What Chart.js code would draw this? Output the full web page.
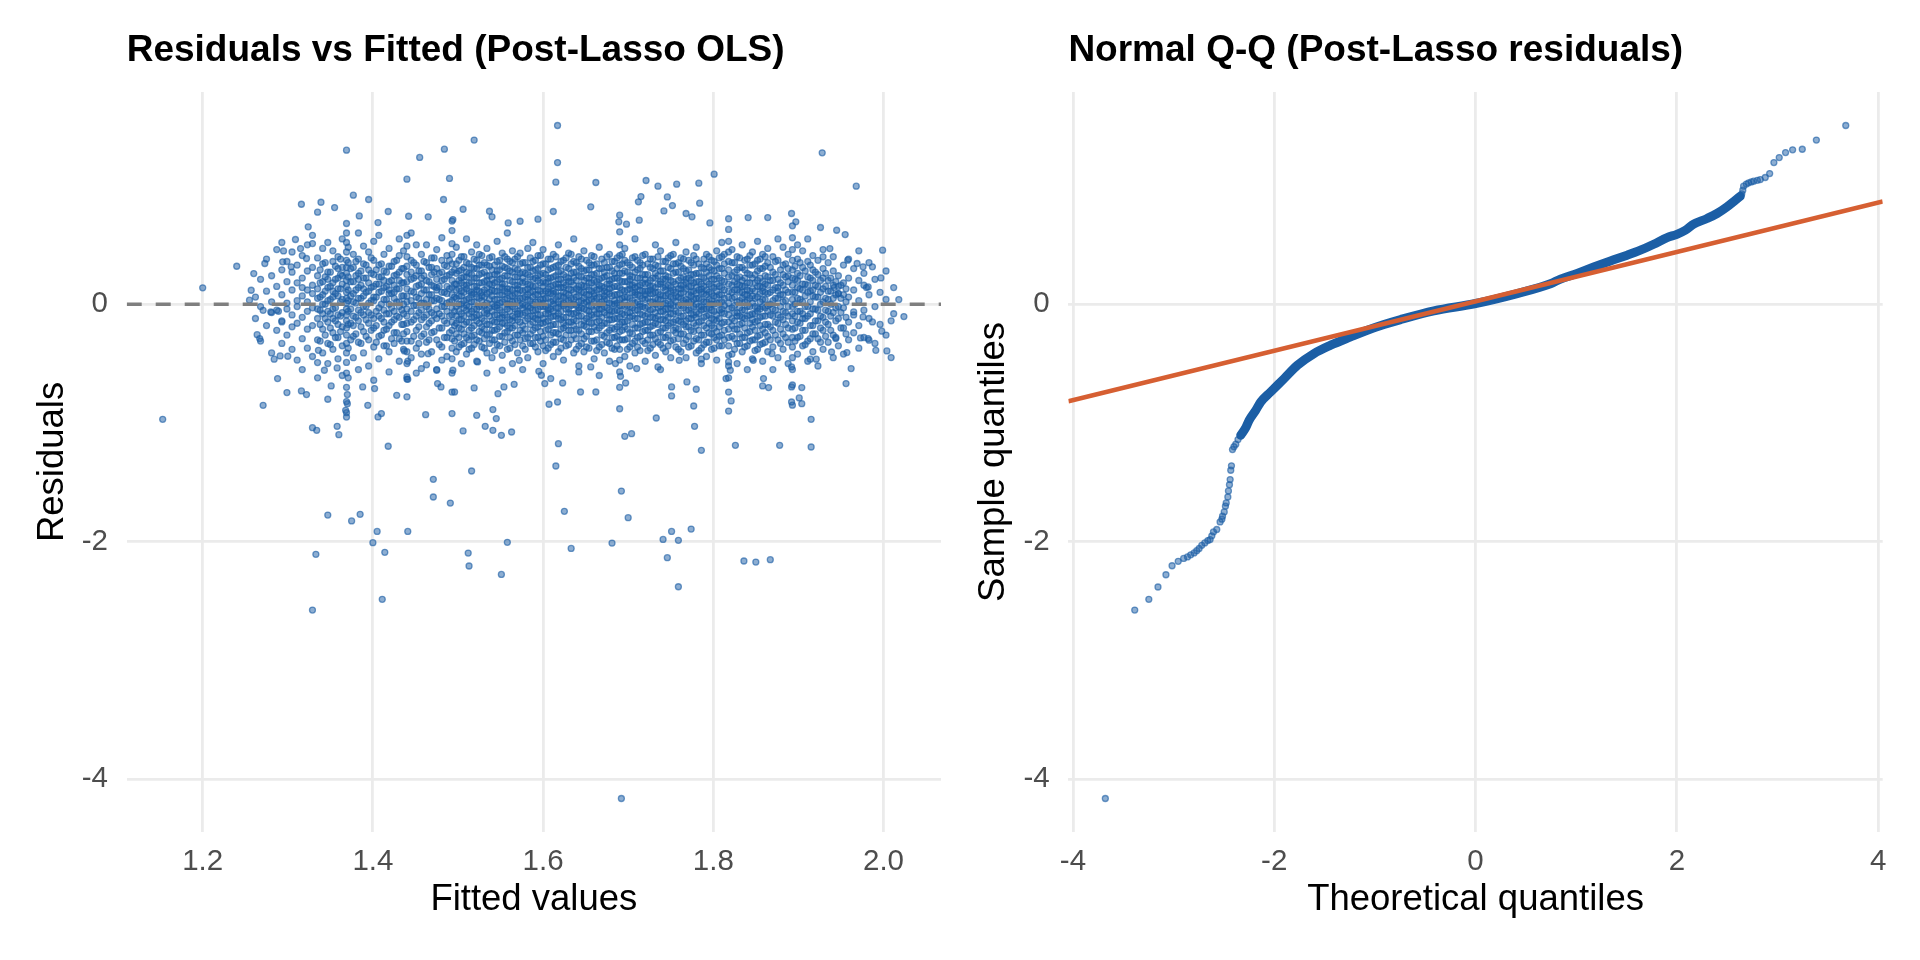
<!DOCTYPE html>
<html lang="en">
<head>
    <meta charset="UTF-8">
    <title>Post-Lasso OLS diagnostics</title>
    <style>
        body {
            margin: 0;
            padding: 0;
            background: #ffffff;
            width: 1920px;
            height: 960px;
            overflow: hidden;
        }
        .panel {
            position: absolute;
            top: 0;
            width: 960px;
            height: 960px;
        }
        #leftPanel { left: 0; }
        #rightPanel { left: 960px; }
    </style>
    <script src="https://cdn.jsdelivr.net/npm/chart.js"></script>
</head>
<body>
    <div class="panel" id="leftPanel"><canvas id="residChart" width="960" height="960"></canvas></div>
    <div class="panel" id="rightPanel"><canvas id="qqChart" width="960" height="960"></canvas></div>

    <script>
        // ---- axis ticks ----
        const residXTicks = [1.2, 1.4, 1.6, 1.8, 2.0];
        const residYTicks = [-4, -2, 0];
        const qqXTicks = [-4, -2, 0, 2, 4];
        const qqYTicks = [-4, -2, 0];

        // ---- residuals vs fitted: scattered points [fitted, residual] ----
        const residOutliers = [
            [1.617,1.505],[1.519,1.382],[1.369,1.297],[1.928,1.275],[1.484,1.306],[1.455,1.236],[1.617,1.193],[1.801,1.095],
            [1.44,1.053],[1.49,1.059],[1.615,1.028],[1.662,1.025],[1.721,1.042],[1.735,0.994],[1.757,1.011],[1.783,1.019],
            [1.968,0.994],[1.377,0.918],[1.395,0.882],[1.316,0.842],[1.339,0.859],[1.355,0.814],[1.335,0.775],[1.384,0.744],
            [1.418,0.781],[1.483,0.882],[1.506,0.8],[1.537,0.783],[1.612,0.781],[1.656,0.82],[1.712,0.862],[1.715,0.907],
            [1.746,0.904],[1.752,0.831],[1.742,0.786],[1.784,0.851],[1.768,0.764],[1.775,0.736],[1.892,0.764],[1.897,0.694],
            [1.864,0.73],[1.841,0.73],[1.796,0.685],[1.69,0.75],[1.698,0.674],[1.713,0.708],[1.689,0.694],[1.594,0.716],
            [1.573,0.699],[1.559,0.685],[1.54,0.736],[1.494,0.713],[1.465,0.736],[1.442,0.741],[1.406,0.688],[1.324,0.652],
            [1.24,0.32],[1.273,0.343],[1.26,0.258],[1.2,0.138],[1.926,0.646],[1.945,0.623],[1.955,0.587],[1.999,0.455],
            [1.997,0.222],[1.987,0.315],[2.018,0.039],[2.024,-0.104],[2.009,-0.14],[2.004,-0.393],[2.009,-0.449],[1.998,-0.227],
            [1.962,-0.542],[1.957,-0.407],[1.956,-0.668],[1.98,0.14],[1.976,0.315],[1.937,0.469],[1.929,0.399],[1.958,0.371],
            [1.942,0.14],[1.973,-0.284],[1.982,-0.289],[1.987,-0.149],[1.944,-0.289],[1.939,-0.402],[1.914,-0.463],[1.921,-0.463],
            [1.295,0.449],[1.309,0.545],[1.315,0.469],[1.294,0.357],[1.304,0.315],[1.322,0.385],[1.329,0.511],
            [1.969,0.343],[1.982,0.146],[1.947,0.09],[1.965,-0.065],[1.976,-0.107],[1.991,-0.388],[1.983,-0.303],
            [1.915,-0.969],[1.915,-1.202],[1.878,-1.188],[1.901,-0.789],[1.904,-0.837],[1.892,-0.823],[1.892,-0.696],[1.904,-0.702],
            [1.892,-0.528],[1.858,-0.688],[1.865,-0.702],[1.859,-0.626],[1.826,-1.188],[1.821,-0.814],[1.82,-0.556],[1.815,-0.626],
            [1.786,-1.23],[1.778,-1.028],[1.777,-0.857],[1.78,-0.716],[1.751,-0.696],[1.751,-0.772],[1.769,-0.654],[1.733,-0.958],
            [1.704,-1.09],[1.696,-1.112],[1.697,-0.663],[1.691,-0.607],[1.662,-0.739],[1.644,-0.739],[1.623,-0.663],[1.617,-0.823],
            [1.607,-0.842],[1.618,-1.174],[1.615,-1.362],[1.602,-0.668],[1.566,-0.674],[1.547,-0.753],[1.554,-0.696],[1.545,-0.963],
            [1.563,-1.076],[1.551,-1.104],[1.541,-1.062],[1.532,-1.028],[1.522,-0.935],[1.541,-0.887],[1.519,-0.705],[1.506,-1.067],
            [1.516,-1.404],[1.493,-0.921],[1.496,-0.739],[1.48,-0.696],[1.476,-0.668],[1.462,-0.93],[1.471,-1.474],[1.418,-1.196],
            [1.41,-0.921],[1.406,-0.949],[1.402,-0.71],[1.388,-0.696],[1.394,-0.851],[1.428,-0.767],[1.441,-0.632],[1.44,-0.612],
            [1.37,-0.761],[1.37,-0.837],[1.369,-0.913],[1.368,-0.893],[1.358,-1.028],[1.36,-1.098],[1.351,-0.688],[1.347,-0.8],
            [1.329,-1.039],[1.334,-1.062],[1.322,-0.761],[1.316,-0.73],[1.299,-0.744],[1.271,-0.851],[1.288,-0.626],[1.291,-0.435],
            [1.284,-0.463],[1.3,-0.438],[1.264,-0.256],[1.267,-0.289],[1.271,-0.051],[1.28,-0.065],[1.289,-0.059],[1.293,-0.149],
            [1.257,0.118],[1.255,0.034],[1.153,-0.969],[1.358,-0.536],[1.336,-0.388],[1.335,-0.491],[1.343,-0.556],[1.437,-0.393],
            [1.441,-0.48],[1.457,-0.542],[1.465,-0.416],[1.475,-0.556],[1.494,-0.556],[1.523,-0.486],[1.552,-0.556],[1.572,-0.472],
            [1.595,-0.565],[1.609,-0.626],[1.598,-0.598],[1.642,-0.57],[1.656,-0.528],[1.685,-0.5],[1.71,-0.542],[1.735,-0.528],
            [1.76,-0.472],[1.786,-0.463],[1.818,-0.486],[1.847,-0.472],[1.869,-0.416],
            [1.471,-1.623],[1.491,-1.674],[1.692,-1.573],[1.347,-1.775],[1.375,-1.825],[1.385,-1.769],[1.625,-1.744],[1.7,-1.797],
            [1.405,-1.913],[1.441,-1.913],[1.774,-1.893],[1.751,-1.913],[1.741,-1.98],[1.759,-1.988],[1.4,-2.008],[1.558,-2.005],
            [1.681,-2.011],[1.333,-2.106],[1.414,-2.089],[1.512,-2.095],[1.633,-2.056],[1.746,-2.134],[1.513,-2.204],[1.836,-2.162],
            [1.85,-2.171],[1.867,-2.151],[1.551,-2.275],[1.759,-2.379],[1.411,-2.485],[1.329,-2.575],[1.692,-4.162]
        ];

        // ---- residuals vs fitted: spread of the cloud, estimated per fitted value [fitted, [residuals...]] ----
        const residCore = [
            [1.262,[0.06,-0.12]],[1.268,[0.21,-0.02,-0.31]],[1.275,[0.11,-0.18,0.38]],[1.281,[-0.07,0.24,-0.41,0.02]],
            [1.287,[0.15,-0.22,0.46,-0.05]],[1.293,[0.08,-0.33,0.29,-0.14,0.52]],[1.299,[-0.04,0.19,-0.26,0.36,0.01]],
            [1.305,[0.12,-0.38,0.27,-0.09,0.44,-0.19]],[1.311,[0.03,-0.16,0.33,-0.47,0.18,-0.02]],
            [1.317,[0.22,-0.11,0.41,-0.29,0.07,-0.55,0.14]],[1.323,[-0.06,0.28,-0.21,0.12,-0.37,0.5,0.02]],
            [1.329,[0.16,-0.03,-0.44,0.31,-0.18,0.09,0.58]],[1.335,[-0.12,0.24,0.05,-0.3,0.39,-0.62,0.13,-0.04]],
            [1.341,[0.08,-0.21,0.34,-0.08,0.19,-0.41,0.47,0.0]],[1.347,[-0.15,0.27,0.03,-0.33,0.14,0.52,-0.06,-0.5,0.21]],
            [1.353,[0.11,-0.04,0.36,-0.24,0.18,-0.12,0.45,-0.38,0.06]],[1.359,[-0.09,0.22,-0.28,0.07,0.4,-0.17,0.13,-0.46,0.3]],
            [1.364,[0.04,-0.19,0.31,-0.35,0.17,0.55,-0.07,0.24,-0.6]],
            [1.369,[-0.95,-0.82,-0.7,-0.58,-0.49,-0.41,-0.33,-0.26,-0.2,-0.14,-0.09,-0.04,0.01,0.05,0.1,0.15,0.2,0.26,0.31,0.37,0.44,0.52,0.6,0.68]],
            [1.371,[-0.62,-0.37,-0.17,-0.06,0.03,0.12,0.23,0.35,0.48]],[1.377,[0.09,-0.27,0.19,-0.1,0.42,-0.45,0.02,0.31,-0.18]],
            [1.383,[-0.05,0.26,-0.32,0.14,-0.14,0.38,0.05,-0.55,0.21,0.6]],[1.389,[0.13,-0.09,0.34,-0.23,0.07,-0.41,0.22,0.49,-0.02]],
            [1.395,[-0.16,0.18,0.01,-0.3,0.29,-0.07,0.44,-0.52,0.11]],[1.401,[0.06,-0.2,0.37,-0.12,0.15,-0.36,0.25,0.03,-0.64,0.53]],
            [1.407,[-0.03,0.23,-0.27,0.1,-0.46,0.33,-0.1,0.17,0.58]],[1.413,[0.14,-0.15,0.28,-0.35,0.04,0.42,-0.05,-0.22,0.2]],
            [1.419,[-0.08,0.19,-0.4,0.09,0.32,-0.18,0.0,0.47,-0.57,0.12]],[1.425,[0.1,-0.24,0.36,-0.06,0.16,-0.33,0.24,-0.13,0.05]],
            [1.431,[-0.11,0.27,0.02,-0.29,0.41,-0.48,0.13,-0.02,0.2,0.55]],[1.436,[0.07,-0.17,0.3,-0.38,0.18,-0.08,0.45,0.0,-0.25]],
            [1.440,[-0.78,-0.63,-0.5,-0.4,-0.31,-0.23,-0.16,-0.1,-0.04,0.02,0.07,0.13,0.19,0.25,0.32,0.4,0.49,0.58]],
            [1.445,[-0.06,0.21,-0.31,0.11,0.37,-0.15,0.03,-0.45,0.27,0.6]],[1.451,[0.15,-0.1,0.33,-0.22,0.06,-0.37,0.24,-0.01,0.5,-0.58]],
            [1.457,[-0.13,0.09,0.28,-0.27,0.17,-0.05,0.42,-0.42,0.01,0.22]],[1.463,[0.04,-0.19,0.35,-0.09,0.2,-0.32,0.12,0.5,-0.51,-0.02]],
            [1.469,[-0.07,0.25,-0.24,0.08,0.39,-0.14,0.16,-0.4,0.03,0.31]],[1.475,[0.12,-0.12,0.3,-0.3,0.05,0.46,-0.04,-0.55,0.21,0.14]],
            [1.481,[-0.02,0.2,-0.2,0.37,-0.36,0.1,0.27,-0.1,0.56,-0.47,0.03]],[1.487,[0.09,-0.16,0.24,-0.06,0.41,-0.28,0.15,-0.44,0.01,0.32]],
            [1.493,[-0.74,-0.58,-0.46,-0.37,-0.29,-0.22,-0.15,-0.09,-0.03,0.03,0.08,0.14,0.2,0.27,0.34,0.42,0.51,0.62,0.7]],
            [1.498,[-0.1,0.17,0.34,-0.25,0.05,-0.4,0.26,-0.02,0.12,0.48,-0.16]],[1.504,[0.07,-0.21,0.29,-0.08,0.18,-0.34,0.4,0.0,-0.5,0.22,-0.13,0.11]],
            [1.510,[-0.05,0.23,-0.28,0.13,0.35,-0.15,0.04,-0.42,0.27,-0.01,0.55,0.16]],[1.516,[0.1,-0.11,0.31,-0.2,0.02,0.19,-0.37,0.44,-0.06,0.25,-0.27,0.08]],
            [1.522,[-0.14,0.15,0.37,-0.04,-0.3,0.22,0.06,-0.48,0.3,-0.09,0.12,0.5]],[1.528,[0.03,-0.24,0.26,-0.12,0.41,0.1,-0.36,0.18,-0.02,-0.19,0.33,0.07]],
            [1.534,[-0.08,0.2,-0.17,0.33,0.01,-0.41,0.14,0.47,-0.26,0.24,-0.05,0.09,-0.58]],[1.540,[0.12,-0.06,0.29,-0.3,0.07,0.21,-0.14,0.4,-0.22,0.0,0.16,-0.45]],
            [1.546,[-0.03,0.25,-0.21,0.11,0.36,-0.09,0.04,-0.34,0.19,0.53,-0.15,0.28,-0.01]],[1.552,[0.08,-0.16,0.22,-0.07,0.32,-0.27,0.14,-0.43,0.02,0.43,-0.11,0.17]],
            [1.558,[-0.11,0.13,0.3,-0.23,0.05,-0.04,0.24,-0.38,0.1,0.38,-0.18,0.0,0.6]],[1.564,[0.02,-0.2,0.19,0.35,-0.1,0.12,-0.31,0.27,-0.02,0.07,-0.5,0.45,-0.14]],
            [1.570,[-0.06,0.23,-0.13,0.09,0.4,-0.26,0.16,-0.41,0.03,0.29,-0.08,0.13]],[1.576,[0.11,-0.09,0.27,-0.35,0.05,0.18,-0.18,0.35,-0.03,0.22,-0.24,0.0,-0.55]],
            [1.582,[-0.02,0.17,-0.28,0.31,0.08,-0.12,0.47,-0.45,0.13,-0.06,0.25,0.04]],[1.588,[0.06,-0.15,0.21,-0.05,0.36,-0.22,0.11,-0.33,0.28,0.0,0.15,-0.1,0.52]],
            [1.594,[-0.09,0.12,0.3,-0.19,0.02,0.2,-0.4,0.41,-0.04,0.08,-0.28,0.24,-0.13]],[1.600,[0.04,-0.12,0.26,-0.27,0.15,-0.02,0.34,-0.5,0.09,0.19,-0.16,0.01,0.46,-0.35]],
            [1.606,[-0.05,0.19,-0.21,0.1,0.29,-0.08,0.05,-0.37,0.22,-0.14,0.38,0.13,-0.03]],[1.612,[0.09,-0.17,0.23,-0.32,0.03,0.16,-0.06,0.42,-0.24,0.11,0.31,-0.44,0.0,-0.1]],
            [1.618,[-0.12,0.14,0.33,-0.03,-0.25,0.07,0.21,-0.4,0.27,-0.08,0.02,0.5,0.17]],[1.624,[0.01,-0.2,0.18,0.37,-0.11,0.1,-0.3,0.25,-0.01,0.06,-0.47,0.14,-0.16]],
            [1.630,[-0.07,0.22,-0.15,0.08,0.3,-0.34,0.13,-0.04,0.43,-0.22,0.03,0.19]],[1.636,[0.1,-0.08,0.27,-0.26,0.04,0.16,-0.13,0.36,-0.41,0.0,0.22,-0.18,0.55]],
            [1.642,[-0.03,0.15,-0.22,0.32,0.07,-0.1,0.24,-0.35,0.12,-0.05,0.4,-0.52,0.02]],[1.648,[0.05,-0.14,0.2,-0.04,0.28,-0.29,0.1,0.45,-0.18,0.01,0.15,-0.4]],
            [1.654,[-0.1,0.18,-0.06,0.35,-0.23,0.08,0.22,-0.37,0.03,0.12,-0.15,0.29,-0.01]],[1.660,[0.07,-0.19,0.25,-0.11,0.14,0.4,-0.31,0.02,-0.46,0.2,-0.05,0.33,0.09]],
            [1.666,[-0.04,0.13,0.3,-0.2,0.06,-0.08,0.21,-0.36,0.48,0.0,-0.14,0.16,-0.6]],[1.672,[0.11,-0.07,0.23,-0.27,0.04,0.35,-0.16,0.14,-0.41,0.27,-0.02,0.07]],
            [1.678,[-0.09,0.17,-0.13,0.31,0.01,-0.33,0.2,0.09,-0.22,0.42,-0.05,0.13,-0.48]],[1.684,[0.03,-0.21,0.26,-0.06,0.15,-0.38,0.36,0.0,-0.12,0.22,0.08,-0.28]],
            [1.690,[-0.88,-0.7,-0.57,-0.47,-0.38,-0.3,-0.23,-0.17,-0.11,-0.06,-0.01,0.04,0.09,0.14,0.2,0.26,0.33,0.41,0.5,0.61]],
            [1.696,[0.06,-0.15,0.28,-0.02,0.19,-0.3,0.11,-0.44,0.37,-0.09,0.02,0.47,-0.19]],[1.702,[-0.07,0.21,-0.24,0.13,0.33,-0.11,0.05,-0.36,0.24,-0.02,0.16,-0.52]],
            [1.708,[0.1,-0.12,0.18,-0.31,0.27,0.01,-0.2,0.4,-0.05,0.08,0.55,-0.41,0.14]],[1.714,[-0.02,0.16,-0.17,0.35,-0.27,0.07,0.22,-0.08,0.12,-0.39,0.3,0.0]],
            [1.720,[0.08,-0.22,0.25,-0.1,0.04,0.42,-0.33,0.17,-0.03,-0.48,0.21,0.11,-0.15]],[1.726,[-0.11,0.12,0.31,-0.19,0.02,0.2,-0.05,-0.37,0.38,0.09,-0.26,0.15]],
            [1.732,[0.05,-0.16,0.22,-0.29,0.14,0.33,-0.07,0.0,-0.43,0.26,-0.12,0.5,0.1]],[1.738,[-0.06,0.19,-0.23,0.08,0.28,-0.13,0.04,-0.34,0.17,0.45,-0.02,-0.55]],
            [1.744,[0.12,-0.09,0.24,-0.2,0.01,0.36,-0.28,0.15,-0.04,0.07,-0.4,0.21,-0.14]],[1.750,[-0.03,0.14,-0.16,0.3,0.06,-0.31,0.2,-0.08,0.41,-0.45,0.11,0.0]],
            [1.756,[0.07,-0.2,0.27,-0.06,0.17,-0.36,0.1,0.34,-0.13,0.02,-0.24,0.52]],[1.762,[-0.1,0.16,-0.01,0.32,-0.25,0.09,0.22,-0.4,0.05,-0.15,0.39,0.13]],
            [1.768,[0.04,-0.14,0.21,-0.3,0.13,0.28,-0.05,-0.45,0.18,0.01,0.44,-0.19]],[1.774,[-0.08,0.2,-0.22,0.07,0.35,-0.12,0.15,-0.35,0.02,0.25,-0.03,0.1]],
            [1.780,[0.09,-0.18,0.26,-0.07,0.14,-0.29,0.38,0.0,-0.41,0.19,0.05,-0.11,0.48]],[1.786,[-0.05,0.13,-0.26,0.23,0.04,-0.14,0.31,-0.37,0.1,-0.02,0.17,-0.5]],
            [1.792,[0.02,-0.1,0.19,-0.32,0.27,0.08,-0.2,0.42,-0.04,0.12,-0.44,0.34]],[1.798,[-0.12,0.15,0.29,-0.18,0.03,-0.05,0.21,-0.38,0.09,0.37,-0.25,0.0]],
            [1.804,[0.06,-0.23,0.17,-0.09,0.33,-0.3,0.11,0.01,-0.47,0.24,-0.14,0.45]],[1.810,[-0.04,0.2,-0.16,0.08,0.3,-0.35,0.14,-0.07,0.4,-0.26,0.02,0.52]],
            [1.818,[-0.9,-0.74,-0.62,-0.52,-0.43,-0.35,-0.28,-0.21,-0.15,-0.09,-0.04,0.01,0.06,0.11,0.17,0.23,0.29,0.36,0.44,0.53,0.63,0.72]],
            [1.822,[0.1,-0.12,0.24,-0.27,0.05,0.35,-0.03,-0.42,0.16,-0.18,0.46]],[1.828,[-0.07,0.17,-0.21,0.29,0.02,-0.33,0.12,-0.1,0.4,-0.5,0.22]],
            [1.834,[0.05,-0.16,0.2,-0.05,0.31,-0.28,0.1,-0.4,0.15,0.5,-0.11]],[1.840,[-0.1,0.12,-0.24,0.26,0.03,0.38,-0.35,0.18,-0.02,-0.55,0.08]],
            [1.846,[0.07,-0.19,0.22,-0.08,0.33,-0.3,0.13,-0.46,0.01,0.44,-0.13]],[1.852,[-0.03,0.15,-0.27,0.28,0.06,-0.14,0.37,-0.38,0.2,-0.06,0.53]],
            [1.858,[0.11,-0.1,0.19,-0.33,0.04,0.3,-0.21,0.42,-0.02,-0.48,0.14]],[1.864,[-0.06,0.23,-0.17,0.09,0.35,-0.4,0.16,-0.01,-0.27,0.47]],
            [1.870,[0.03,-0.22,0.27,-0.1,0.12,-0.36,0.4,-0.04,0.2,-0.55]],[1.876,[-0.09,0.14,-0.3,0.21,0.05,0.37,-0.16,-0.45,0.11,0.55]],
            [1.882,[0.08,-0.13,0.25,-0.25,0.02,0.33,-0.38,0.16,-0.06,0.48]],[1.888,[-0.02,0.19,-0.2,0.3,-0.32,0.1,0.42,-0.1,-0.5,0.24]],
            [1.893,[-0.85,-0.68,-0.55,-0.45,-0.36,-0.28,-0.21,-0.14,-0.08,-0.02,0.04,0.1,0.16,0.22,0.29,0.37,0.46,0.56,0.66]],
            [1.899,[0.05,-0.15,0.26,-0.28,0.14,0.38,-0.06,-0.42,0.2,0.5]],[1.905,[-0.08,0.17,-0.22,0.31,0.02,-0.35,0.12,0.45,-0.12]],
            [1.911,[0.1,-0.1,0.23,-0.31,0.36,-0.02,-0.48,0.16,0.55]],[1.917,[-0.04,0.2,-0.18,0.29,0.07,-0.4,0.41,-0.25,0.12]],
            [1.923,[0.06,-0.14,0.25,-0.29,0.15,0.37,-0.05,-0.52]],[1.929,[-0.11,0.13,0.3,-0.22,0.02,-0.38,0.22,0.46]],
            [1.935,[0.04,-0.17,0.2,-0.32,0.35,-0.06,0.11]],[1.941,[-0.07,0.16,-0.26,0.28,0.05,-0.45,0.4]],
            [1.947,[0.09,-0.12,0.24,-0.35,0.15,-0.02]],[1.953,[-0.03,0.18,-0.2,0.33,-0.42,0.08]],[1.959,[0.06,-0.15,0.22,-0.3,0.38]],
            [1.965,[-0.09,0.12,0.3,-0.24]],[1.971,[0.03,-0.18,0.2,-0.37,0.45]],[1.977,[-0.05,0.16,-0.28,0.26]],
            [1.983,[0.08,-0.12,0.35]],[1.990,[-0.02,0.21,-0.33]],[1.996,[0.1,-0.17]],[2.003,[0.04,-0.26,0.28]],[2.012,[-0.08,0.14]]
        ];

        // ---- residuals vs fitted: the nearly solid band around zero [fitted, [residuals...]] ----
        const residInner = [
            [1.338,[-0.31,-0.17,-0.05,0.06,0.18,0.29]],[1.344,[-0.26,-0.12,0.0,0.11,0.23,0.35]],[1.350,[-0.34,-0.2,-0.08,0.04,0.15,0.27]],
            [1.356,[-0.28,-0.14,-0.03,0.09,0.21,0.32]],[1.362,[-0.23,-0.1,0.02,0.13,0.25,0.38]],[1.374,[-0.3,-0.16,-0.04,0.07,0.19,0.3]],
            [1.380,[-0.25,-0.11,0.01,0.12,0.24,0.36]],[1.386,[-0.33,-0.19,-0.07,0.05,0.16,0.28]],[1.392,[-0.27,-0.13,-0.02,0.1,0.22,0.33]],
            [1.398,[-0.22,-0.09,0.03,0.14,0.26,0.39]],[1.404,[-0.32,-0.18,-0.06,0.06,0.17,0.29]],[1.410,[-0.26,-0.12,0.0,0.11,0.23,0.34]],
            [1.416,[-0.35,-0.21,-0.08,0.04,0.15,0.27]],[1.422,[-0.29,-0.15,-0.03,0.09,0.2,0.32]],[1.428,[-0.24,-0.1,0.02,0.13,0.25,0.37]],
            [1.434,[-0.31,-0.17,-0.05,0.07,0.18,0.3]],[1.448,[-0.27,-0.13,-0.01,0.1,0.22,0.35]],[1.454,[-0.33,-0.19,-0.07,0.05,0.16,0.28]],
            [1.460,[-0.25,-0.11,0.01,0.12,0.24,0.36]],[1.466,[-0.3,-0.16,-0.04,0.08,0.19,0.31]],[1.472,[-0.23,-0.09,0.03,0.15,0.27,0.39]],
            [1.478,[-0.34,-0.2,-0.08,0.04,0.15,0.26]],[1.484,[-0.28,-0.14,-0.02,0.1,0.21,0.33]],[1.490,[-0.24,-0.1,0.02,0.13,0.25,0.37]],
            [1.496,[-0.31,-0.18,-0.06,0.06,0.17,0.29]],
            [1.501,[-0.36,-0.28,-0.2,-0.13,-0.06,0.0,0.07,0.13,0.2,0.28,0.37]],[1.507,[-0.33,-0.25,-0.17,-0.1,-0.03,0.03,0.1,0.16,0.23,0.31,0.4]],
            [1.513,[-0.38,-0.3,-0.22,-0.15,-0.08,-0.02,0.05,0.11,0.18,0.26,0.34]],[1.519,[-0.34,-0.26,-0.18,-0.11,-0.04,0.02,0.09,0.15,0.22,0.3,0.38]],
            [1.525,[-0.31,-0.23,-0.16,-0.09,-0.02,0.05,0.11,0.18,0.25,0.33,0.42]],[1.531,[-0.37,-0.29,-0.21,-0.14,-0.07,-0.01,0.06,0.12,0.19,0.27,0.35]],
            [1.537,[-0.33,-0.25,-0.17,-0.1,-0.03,0.04,0.1,0.17,0.24,0.32,0.39]],[1.543,[-0.39,-0.3,-0.22,-0.15,-0.09,-0.02,0.04,0.11,0.18,0.25,0.33]],
            [1.549,[-0.35,-0.27,-0.19,-0.12,-0.05,0.01,0.08,0.14,0.21,0.29,0.37]],[1.555,[-0.32,-0.24,-0.16,-0.09,-0.02,0.04,0.11,0.17,0.24,0.31,0.4]],
            [1.561,[-0.37,-0.28,-0.2,-0.13,-0.06,0.0,0.07,0.13,0.2,0.28,0.36]],[1.567,[-0.34,-0.26,-0.18,-0.11,-0.04,0.03,0.09,0.16,0.23,0.3,0.38]],
            [1.573,[-0.3,-0.22,-0.15,-0.08,-0.01,0.05,0.12,0.19,0.26,0.34,0.43]],[1.579,[-0.38,-0.29,-0.21,-0.14,-0.07,-0.01,0.06,0.12,0.19,0.26,0.35]],
            [1.585,[-0.33,-0.25,-0.17,-0.1,-0.03,0.03,0.1,0.16,0.23,0.31,0.39]],[1.591,[-0.36,-0.28,-0.2,-0.12,-0.05,0.02,0.08,0.15,0.22,0.29,0.37]],
            [1.597,[-0.31,-0.23,-0.16,-0.09,-0.02,0.04,0.11,0.18,0.25,0.33,0.41]],[1.603,[-0.39,-0.3,-0.22,-0.15,-0.08,-0.02,0.05,0.11,0.18,0.25,0.34]],
            [1.609,[-0.34,-0.26,-0.18,-0.11,-0.04,0.02,0.09,0.15,0.22,0.3,0.38]],[1.615,[-0.32,-0.24,-0.17,-0.1,-0.03,0.04,0.1,0.17,0.24,0.32,0.4]],
            [1.621,[-0.37,-0.29,-0.21,-0.13,-0.06,0.0,0.07,0.14,0.21,0.28,0.36]],[1.627,[-0.35,-0.26,-0.18,-0.11,-0.04,0.03,0.09,0.16,0.23,0.31,0.39]],
            [1.633,[-0.3,-0.22,-0.15,-0.08,-0.01,0.05,0.12,0.19,0.26,0.34,0.42]],[1.639,[-0.38,-0.29,-0.21,-0.14,-0.07,-0.01,0.06,0.13,0.2,0.27,0.35]],
            [1.645,[-0.33,-0.25,-0.17,-0.1,-0.03,0.03,0.1,0.16,0.23,0.3,0.38]],[1.651,[-0.36,-0.27,-0.19,-0.12,-0.05,0.02,0.08,0.15,0.22,0.29,0.37]],
            [1.657,[-0.31,-0.23,-0.16,-0.09,-0.02,0.04,0.11,0.18,0.25,0.33,0.41]],[1.663,[-0.39,-0.3,-0.22,-0.15,-0.08,-0.02,0.05,0.12,0.19,0.26,0.34]],
            [1.669,[-0.34,-0.26,-0.18,-0.11,-0.04,0.02,0.09,0.15,0.22,0.3,0.38]],[1.675,[-0.32,-0.24,-0.16,-0.09,-0.03,0.04,0.1,0.17,0.24,0.31,0.4]],
            [1.681,[-0.37,-0.28,-0.2,-0.13,-0.06,0.0,0.07,0.14,0.21,0.28,0.36]],[1.687,[-0.35,-0.27,-0.19,-0.12,-0.05,0.01,0.08,0.15,0.22,0.3,0.39]],
            [1.693,[-0.3,-0.22,-0.15,-0.08,-0.01,0.05,0.12,0.19,0.26,0.34,0.42]],[1.699,[-0.38,-0.29,-0.21,-0.14,-0.07,-0.01,0.06,0.12,0.19,0.27,0.35]],
            [1.705,[-0.33,-0.25,-0.17,-0.1,-0.03,0.03,0.1,0.16,0.23,0.31,0.39]],[1.711,[-0.36,-0.28,-0.2,-0.12,-0.05,0.02,0.08,0.15,0.22,0.29,0.37]],
            [1.717,[-0.31,-0.23,-0.16,-0.09,-0.02,0.05,0.11,0.18,0.25,0.33,0.41]],[1.723,[-0.39,-0.3,-0.22,-0.15,-0.08,-0.02,0.05,0.11,0.18,0.25,0.34]],
            [1.729,[-0.34,-0.26,-0.18,-0.11,-0.04,0.02,0.09,0.15,0.22,0.3,0.38]],[1.735,[-0.32,-0.24,-0.17,-0.1,-0.03,0.04,0.1,0.17,0.24,0.32,0.4]],
            [1.741,[-0.37,-0.28,-0.2,-0.13,-0.06,0.0,0.07,0.14,0.21,0.28,0.36]],[1.747,[-0.35,-0.26,-0.18,-0.11,-0.04,0.03,0.09,0.16,0.23,0.31,0.39]],
            [1.753,[-0.3,-0.22,-0.15,-0.08,-0.01,0.05,0.12,0.19,0.26,0.34,0.42]],[1.759,[-0.38,-0.29,-0.21,-0.14,-0.07,-0.01,0.06,0.13,0.2,0.27,0.35]],
            [1.765,[-0.33,-0.25,-0.17,-0.1,-0.03,0.03,0.1,0.16,0.23,0.3,0.38]],[1.771,[-0.36,-0.27,-0.19,-0.12,-0.05,0.02,0.08,0.15,0.22,0.29,0.37]],
            [1.777,[-0.31,-0.23,-0.16,-0.09,-0.02,0.04,0.11,0.18,0.25,0.33,0.41]],[1.783,[-0.39,-0.3,-0.22,-0.15,-0.08,-0.02,0.05,0.12,0.19,0.26,0.34]],
            [1.789,[-0.34,-0.26,-0.18,-0.11,-0.04,0.02,0.09,0.15,0.22,0.3,0.38]],[1.795,[-0.32,-0.24,-0.16,-0.09,-0.03,0.04,0.1,0.17,0.24,0.31,0.4]],
            [1.801,[-0.37,-0.28,-0.2,-0.13,-0.06,0.0,0.07,0.14,0.21,0.28,0.36]],[1.807,[-0.35,-0.27,-0.19,-0.12,-0.05,0.01,0.08,0.15,0.22,0.3,0.39]],
            [1.813,[-0.3,-0.22,-0.15,-0.08,-0.01,0.05,0.12,0.19,0.26,0.34,0.42]],[1.825,[-0.38,-0.29,-0.21,-0.14,-0.07,-0.01,0.06,0.12,0.19,0.27,0.35]],
            [1.831,[-0.33,-0.25,-0.17,-0.1,-0.03,0.03,0.1,0.16,0.23,0.31,0.39]],[1.837,[-0.36,-0.28,-0.2,-0.12,-0.05,0.02,0.08,0.15,0.22,0.29,0.37]],
            [1.843,[-0.31,-0.23,-0.16,-0.09,-0.02,0.05,0.11,0.18,0.25,0.33,0.41]],[1.849,[-0.39,-0.3,-0.22,-0.15,-0.08,-0.02,0.05,0.11,0.18,0.25,0.34]],
            [1.855,[-0.34,-0.26,-0.18,-0.11,-0.04,0.02,0.09,0.15,0.22,0.3,0.38]],[1.861,[-0.32,-0.24,-0.17,-0.1,-0.03,0.04,0.1,0.17,0.24,0.32,0.4]],
            [1.867,[-0.3,-0.19,-0.09,0.0,0.1,0.2,0.31]],[1.873,[-0.26,-0.15,-0.05,0.05,0.14,0.25,0.36]],[1.879,[-0.33,-0.21,-0.11,-0.02,0.08,0.18,0.29]],
            [1.885,[-0.28,-0.17,-0.07,0.03,0.12,0.23,0.34]],[1.896,[-0.31,-0.2,-0.1,0.0,0.1,0.21,0.32]],[1.902,[-0.27,-0.16,-0.06,0.04,0.13,0.24,0.35]],
            [1.908,[-0.34,-0.22,-0.12,-0.02,0.07,0.17,0.28]],[1.914,[-0.29,-0.18,-0.08,0.02,0.11,0.22,0.33]],[1.920,[-0.25,-0.14,-0.04,0.06,0.16,0.27]],
            [1.926,[-0.32,-0.2,-0.1,0.0,0.1,0.2]],[1.932,[-0.27,-0.15,-0.05,0.05,0.15,0.26]],[1.938,[-0.22,-0.1,0.0,0.11,0.22]],
            [1.944,[-0.28,-0.14,-0.03,0.08,0.19]],[1.950,[-0.2,-0.07,0.05,0.16]],[1.956,[-0.25,-0.11,0.02,0.13]]
        ];

        // ---- normal Q-Q: dense band along the curve ----
        const qqBandTheo = [-2.333,-2.283,-2.25,-2.184,-2.134,-2.035,-1.902,-1.77,-1.605,-1.439,-1.241,-1.075,-0.91,-0.744,-0.414,0,
                            0.414,0.744,0.844,1.009,1.174,1.34,1.506,1.638,1.77,1.903,2.0,2.084,2.167,2.30,2.399,2.498,2.581,2.63];
        const qqBandSample = [-1.103,-1.039,-0.977,-0.893,-0.823,-0.738,-0.626,-0.514,-0.415,-0.345,-0.275,-0.219,-0.171,-0.129,-0.056,0.006,
                              0.09,0.172,0.212,0.26,0.314,0.365,0.413,0.455,0.505,0.561,0.589,0.623,0.674,0.722,0.764,0.82,0.876,0.909];

        // ---- normal Q-Q: sparse tail points ----
        const qqTailTheo = [-3.678,-3.386,-3.246,-3.155,-3.076,-3.015,-2.954,-2.9,-2.862,-2.83,-2.796,-2.77,-2.746,-2.72,-2.69,-2.66,
                            -2.637,-2.62,-2.604,-2.571,-2.538,-2.52,-2.514,-2.497,-2.485,-2.477,-2.461,-2.455,-2.445,-2.438,-2.432,
                            -2.425,-2.415,-2.40,-2.382,-2.36,
                            2.645,2.655,2.663,2.69,2.713,2.74,2.763,2.8,2.829,2.878,2.922,2.964,3.017,3.08,3.15,3.246,3.386,3.678];
        const qqTailSample = [-4.162,-2.575,-2.485,-2.381,-2.278,-2.202,-2.165,-2.14,-2.128,-2.11,-2.094,-2.075,-2.057,-2.03,-2.01,-1.99,
                              -1.982,-1.95,-1.917,-1.897,-1.833,-1.81,-1.785,-1.749,-1.70,-1.673,-1.623,-1.572,-1.52,-1.476,-1.398,
                              -1.361,-1.224,-1.2,-1.179,-1.14,
                              0.93,0.96,0.994,1.012,1.022,1.03,1.036,1.043,1.05,1.067,1.10,1.193,1.235,1.277,1.30,1.305,1.382,1.505];

        // reference line of the Q-Q plot
        const qqLineIntercept = 0.024;
        const qqLineSlope = 0.208;

        // ---- look ----
        const FONT = "'Liberation Sans', Arial, Helvetica, sans-serif";
        const BLUE = 'rgb(27, 94, 165)';
        const pointLook = {
            showLine: false,
            pointRadius: 3,
            pointHoverRadius: 3,
            pointBorderWidth: 1.3,
            pointBackgroundColor: 'rgba(27, 94, 165, 0.5)',
            pointBorderColor: 'rgba(27, 94, 165, 0.62)'
        };
        const yMin = -4.444, yMax = 1.788;
        const residXMin = 1.1107, residXMax = 2.0676;
        const qqXMin = -4.045, qqXMax = 4.045;

        function axis(min, max, ticks, titleText, isX, fmt, titlePad, size) {
            return {
                type: 'linear',
                min: min,
                max: max,
                afterBuildTicks: scale => { scale.ticks = ticks.map(v => ({ value: v })); },
                afterFit: scale => { if (isX) scale.height = size; else scale.width = size; },
                ticks: {
                    autoSkip: false,
                    maxRotation: 0,
                    padding: isX ? 12 : 18.7,
                    color: '#4D4D4D',
                    font: { family: FONT, size: 29.5 },
                    callback: fmt
                },
                grid: { color: '#EBEBEB', lineWidth: 2.8, drawTicks: false },
                border: { display: false },
                title: {
                    display: true,
                    text: titleText,
                    color: '#000000',
                    font: { family: FONT, size: 36.5 },
                    padding: isX ? { top: 0, bottom: titlePad } : { top: titlePad, bottom: 0 }
                }
            };
        }

        function commonOptions(titleText, padRight, xScale, yScale) {
            return {
                responsive: false,
                animation: false,
                events: [],
                layout: { padding: { left: 0, right: padRight, top: 0, bottom: 0 } },
                plugins: {
                    legend: { display: false },
                    tooltip: { enabled: false },
                    title: {
                        display: true,
                        text: titleText,
                        align: 'start',
                        fullSize: false,
                        color: '#000000',
                        font: { family: FONT, size: 37, weight: 'bold' },
                        padding: { top: 28.2, bottom: 19.3 }
                    }
                },
                scales: { x: xScale, y: yScale }
            };
        }

        const fixed1 = v => Number(v).toFixed(1);
        const plain = v => String(v);
        const columnsToPoints = cols => cols.flatMap(([x, ys]) => ys.map(y => ({ x, y })));

        // Residuals vs Fitted
        const residPoints = residOutliers.map(([x, y]) => ({ x, y }))
            .concat(columnsToPoints(residCore), columnsToPoints(residInner));

        new Chart(document.getElementById('residChart'), {
            type: 'scatter',
            data: {
                datasets: [
                    {
                        label: 'zero',
                        data: [{ x: residXMin, y: 0 }, { x: residXMax, y: 0 }],
                        showLine: true,
                        borderColor: '#7F7F7F',
                        borderWidth: 3.4,
                        borderDash: [15, 14],
                        pointRadius: 0
                    },
                    Object.assign({ label: 'residuals', data: residPoints }, pointLook)
                ]
            },
            options: commonOptions('Residuals vs Fitted (Post-Lasso OLS)', 19,
                axis(residXMin, residXMax, residXTicks, 'Fitted values', true, fixed1, 37.8, 128),
                axis(yMin, yMax, residYTicks, 'Residuals', false, plain, 30.8, 126.7))
        });

        // Normal Q-Q
        const qqBand = qqBandTheo.map((x, i) => ({ x, y: qqBandSample[i] }));
        const qqTail = qqTailTheo.map((x, i) => ({ x, y: qqTailSample[i] }));
        const qqLine = [qqXMin, qqXMax].map(x => ({ x, y: qqLineIntercept + qqLineSlope * x }));

        new Chart(document.getElementById('qqChart'), {
            type: 'scatter',
            data: {
                datasets: [
                    {
                        label: 'qq line',
                        data: qqLine,
                        showLine: true,
                        borderColor: '#D65F32',
                        borderWidth: 4.6,
                        pointRadius: 0
                    },
                    {
                        label: 'sample band',
                        data: qqBand,
                        showLine: true,
                        borderColor: BLUE,
                        borderWidth: 9,
                        borderCapStyle: 'round',
                        borderJoinStyle: 'round',
                        cubicInterpolationMode: 'monotone',
                        pointRadius: 0
                    },
                    Object.assign({ label: 'sample tails', data: qqTail }, pointLook)
                ]
            },
            options: commonOptions('Normal Q-Q (Post-Lasso residuals)', 37.3,
                axis(qqXMin, qqXMax, qqXTicks, 'Theoretical quantiles', true, plain, 37.8, 128),
                axis(yMin, yMax, qqYTicks, 'Sample quantiles', false, plain, 12.5, 108.4))
        });
    </script>
</body>
</html>
